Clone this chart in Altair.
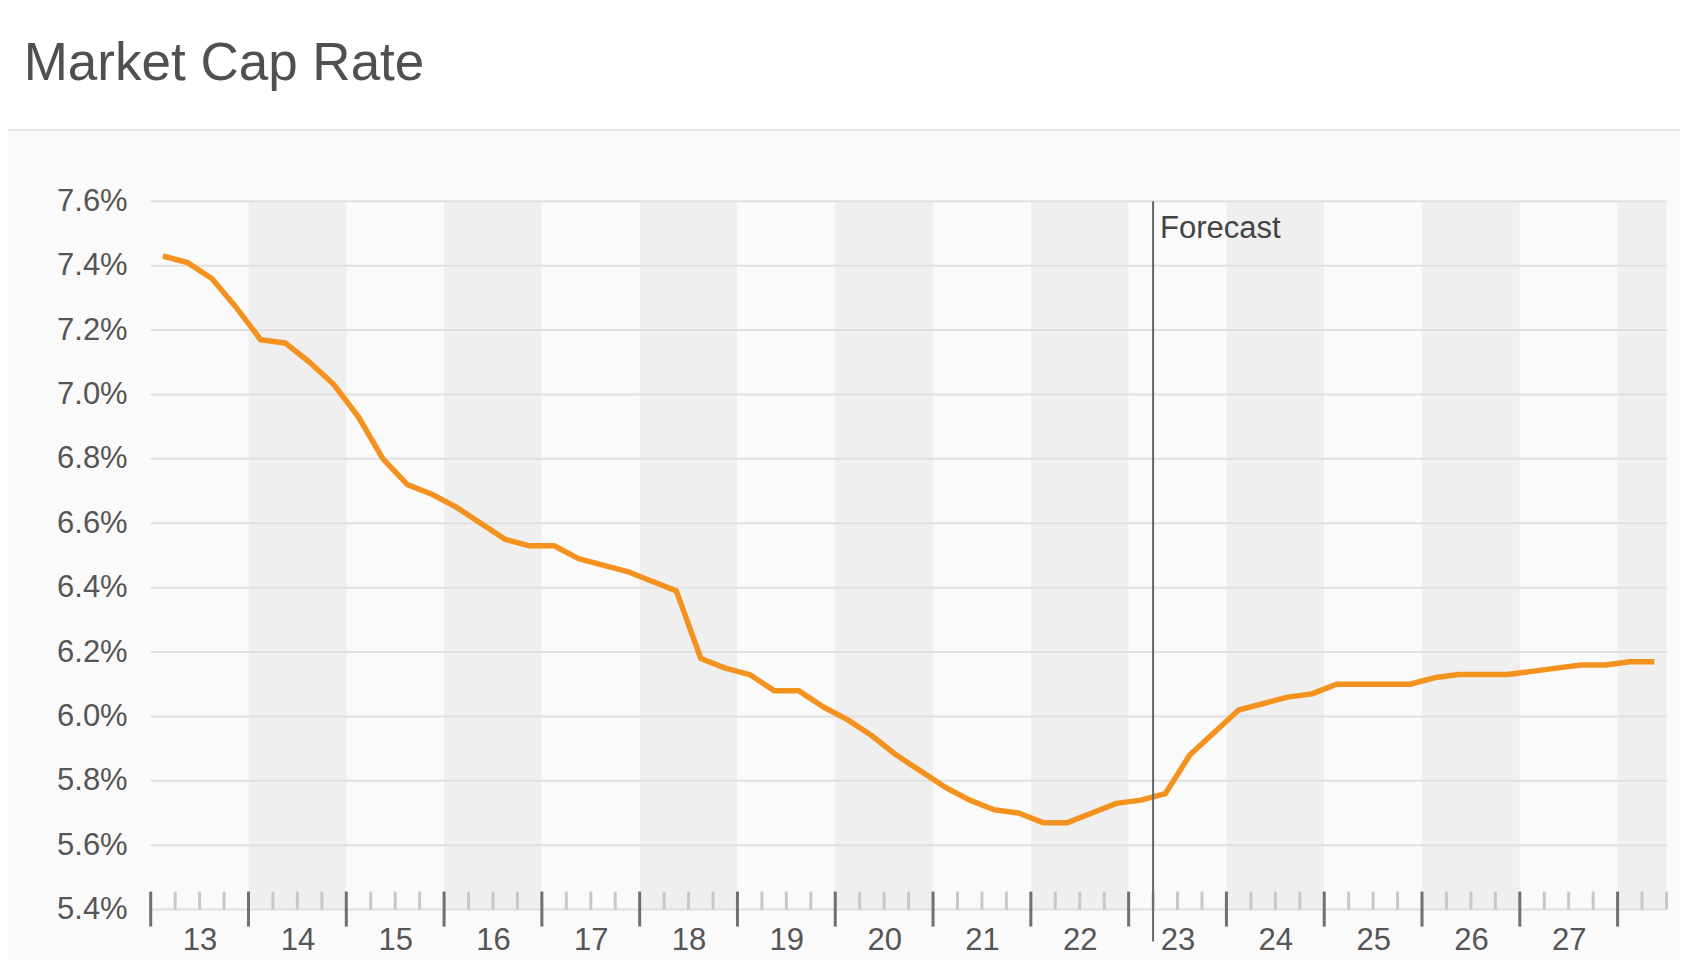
import altair as alt
import pandas as pd

# ---------------- data ----------------
title_text = "Market Cap Rate"
forecast_label = "Forecast"
forecast_start = 2023.25          # forecast begins with 2023 Q2

quarters = [f"{y}Q{q}" for y in range(2013, 2029) for q in range(1, 5)][:62]
cap_rate = [
    7.43, 7.41, 7.36, 7.27, 7.17, 7.16, 7.10, 7.03, 6.93, 6.80,
    6.72, 6.69, 6.65, 6.60, 6.55, 6.53, 6.53, 6.49, 6.47, 6.45,
    6.42, 6.39, 6.18, 6.15, 6.13, 6.08, 6.08, 6.03, 5.99, 5.94,
    5.88, 5.83, 5.78, 5.74, 5.71, 5.70, 5.67, 5.67, 5.70, 5.73,
    5.74, 5.76, 5.88, 5.95, 6.02, 6.04, 6.06, 6.07, 6.10, 6.10,
    6.10, 6.10, 6.12, 6.13, 6.13, 6.13, 6.14, 6.15, 6.16, 6.16,
    6.17, 6.17,
]
year_starts = list(range(2013, 2029))
label_years = list(range(2013, 2028))
y_ticks = [5.4, 5.6, 5.8, 6.0, 6.2, 6.4, 6.6, 6.8, 7.0, 7.2, 7.4, 7.6]
x_end = 2028.5

# ---------------- layout ----------------
W, H = 1515.8, 708.3
PL, PT = 142.7, 193.3
PR = 1672 - PL - W
PB = 952 - PT - H
HEADER_BOTTOM = 130 - (8 + PT)

FONT = "Liberation Sans"
ORANGE = "#f4921f"


def qpos(q):
    return int(q[:4]) + (int(q[5]) - 0.5) / 4


line_df = pd.DataFrame({"t": [qpos(q) for q in quarters], "rate": cap_rate})
band_df = pd.DataFrame({
    "t": year_starts,
    "end": [min(y + 1, x_end) for y in year_starts],
    "fill": ["#efefef" if y % 2 == 0 else "#fafafa" for y in year_starts],
})
major_df = pd.DataFrame({"t": year_starts})
minor_df = pd.DataFrame({"t": [y + f for y in year_starts for f in (0.25, 0.5, 0.75) if y + f <= x_end]})
grid_df = pd.DataFrame({"rate": y_ticks})
fc_df = pd.DataFrame({"t": [forecast_start], "label": [forecast_label]})
title_df = pd.DataFrame({"label": [title_text]})
one = pd.DataFrame({"k": [0]})

xscale = alt.Scale(domain=[2013, x_end], nice=False, zero=False)
yscale = alt.Scale(domain=[5.4, 7.6], nice=False, zero=False)

x_axis = alt.Axis(
    values=[y + 0.5 for y in label_years],
    labelExpr="substring(toString(floor(datum.value)), 2, 4)",
    ticks=False, tickSize=0, domain=False, grid=False, title=None,
    labelFontSize=31, labelFont=FONT, labelColor="#555555", labelPadding=16,
    labelFlush=False, labelOverlap=False,
)
y_axis = alt.Axis(
    values=y_ticks,
    labelExpr="format(datum.value, '.1f') + '%'",
    ticks=False, tickSize=0, domain=False, grid=False, title=None,
    labelFontSize=31, labelFont=FONT, labelColor="#555555", labelPadding=23.5,
    labelOverlap=False, labelFlush=False,
)


def X():
    return alt.X("t:Q", scale=xscale, axis=x_axis, title=None)


def Y():
    return alt.Y("rate:Q", scale=yscale, axis=y_axis, title=None)


header = alt.Chart(one).mark_rect(color="#ffffff").encode(
    x=alt.value(-PL), x2=alt.value(W + PR), y=alt.value(-PT), y2=alt.value(HEADER_BOTTOM)
)
separator = alt.Chart(one).mark_rule(color="#e6e6e6", strokeWidth=2).encode(
    x=alt.value(-PL), x2=alt.value(W + PR), y=alt.value(HEADER_BOTTOM)
)
title = alt.Chart(title_df).mark_text(
    align="left", baseline="alphabetic", font=FONT, fontSize=53, color="#505050"
).encode(x=alt.value(23.7 - 8 - PL), y=alt.value(80 - 8 - PT), text="label:N")

bands = alt.Chart(band_df).mark_rect(clip=True).encode(
    x=X(), x2="end:Q",
    y=alt.value(0), y2=alt.value(H),
    color=alt.Color("fill:N", scale=None),
)
grid = alt.Chart(grid_df).mark_rule(color="#e0e0e0", strokeWidth=2).encode(
    y=Y(), x=alt.value(0), x2=alt.value(W),
)
minor = alt.Chart(minor_df).mark_rule(color="#c8c8c8", strokeWidth=3).encode(
    x=X(), y=alt.value(H - 18), y2=alt.value(H)
)
major = alt.Chart(major_df).mark_rule(color="#707070", strokeWidth=3).encode(
    x=X(), y=alt.value(H - 18), y2=alt.value(H + 17)
)
line = alt.Chart(line_df).mark_line(color=ORANGE, strokeWidth=5.5, strokeJoin="round").encode(
    x=X(), y=Y(),
)
fc_rule = alt.Chart(fc_df).mark_rule(color="#666666", strokeWidth=2).encode(
    x=X(), y=alt.value(0), y2=alt.value(H + 32)
)
fc_text = alt.Chart(fc_df).mark_text(
    align="left", baseline="alphabetic", dx=7, font=FONT, fontSize=31, color="#444444"
).encode(x=X(), y=alt.value(37), text="label:N")

chart = alt.layer(
    header, separator, title, bands, grid, minor, major, line, fc_rule, fc_text
).properties(
    width=W, height=H,
    autosize=alt.AutoSizeParams(type="none"),
    padding={"left": PL, "top": PT, "right": PR, "bottom": PB},
    background="#fafafa",
).configure_view(stroke=None)

chart.save("out.html", embed_options={"renderer": "svg", "actions": False})
